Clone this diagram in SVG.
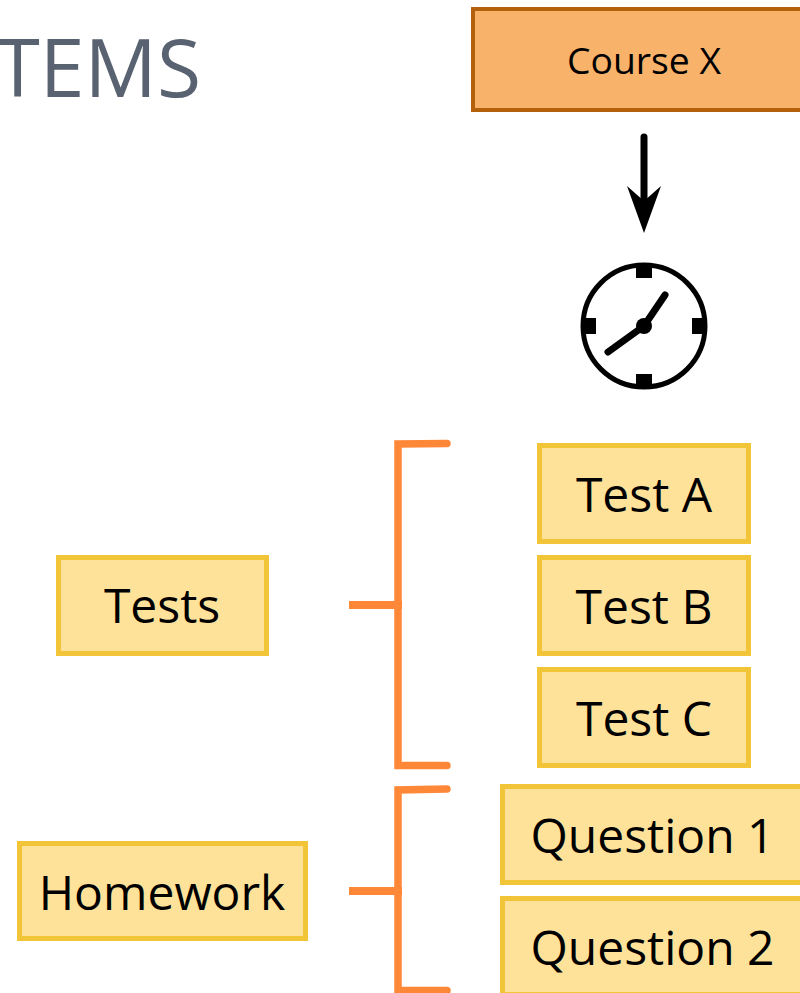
<svg xmlns="http://www.w3.org/2000/svg" width="800" height="993" viewBox="0 0 800 993">
<style>
text{font-family:"Open Sans","Noto Sans",sans-serif;text-anchor:middle;fill:#000}
.y{fill:#ffe299;stroke:#f2c539;stroke-width:5}
.t{font-size:48px}
.b{fill:none;stroke:#ff8838;stroke-width:7.500;stroke-linecap:round;stroke-linejoin:miter}
.s{fill:none;stroke:#ff8838;stroke-width:8}
</style>
<text id="title" x="-4.500" y="97" style="text-anchor:start;font-size:80.500px;fill:#586270">TEMS</text>
<g id="connectors">
<path d="M644 137V200" fill="none" stroke="#000" stroke-width="7" stroke-linecap="round"/>
<path d="M627 186L644 201L661 186L644 233Z" fill="#000"/>
<path class="b" d="M447 443.500L398 444V765.500H447"/>
<path class="s" d="M349 605H402"/>
<path class="b" d="M447 789L398 790V990.500H447"/>
<path class="s" d="M349 891H402"/>
</g>
<g id="course-x"><rect x="473" y="9" width="345" height="101" fill="#f8b26a" stroke="#b5600b" stroke-width="4"/><text x="644" y="74" font-size="37.300">Course X</text></g>
<g id="clock" fill="#000">
<circle cx="644" cy="326" r="61" fill="#fff" stroke="#000" stroke-width="5"/>
<rect x="636" y="267" width="16" height="11"/><rect x="636" y="374" width="16" height="11"/><rect x="585" y="318" width="11" height="16"/><rect x="692" y="318" width="11" height="16"/>
<circle cx="644" cy="326" r="8"/>
<path d="M644 326L665 295M644 326L608 352" stroke="#000" stroke-width="7" stroke-linecap="round"/>
</g>
<g id="test-a"><rect class="y" x="539.500" y="445.500" width="209" height="96"/><text class="t" x="644" y="512">Test A</text></g>
<g id="test-b"><rect class="y" x="539.500" y="557.500" width="209" height="96"/><text class="t" x="644" y="624">Test B</text></g>
<g id="test-c"><rect class="y" x="539.500" y="669.500" width="209" height="96"/><text class="t" x="644" y="736">Test C</text></g>
<g id="tests"><rect class="y" x="58.500" y="557.500" width="208" height="96"/><text class="t" x="162" y="623">Tests</text></g>
<g id="question-1"><rect class="y" x="502.500" y="786.500" width="320" height="96"/><text class="t" x="652.500" y="853">Question 1</text></g>
<g id="question-2"><rect class="y" x="502.500" y="898.500" width="320" height="96"/><text class="t" x="652.500" y="965">Question 2</text></g>
<g id="homework"><rect class="y" x="19.500" y="843.500" width="286" height="95"/><text class="t" x="162" y="910">Homework</text></g>
</svg>
